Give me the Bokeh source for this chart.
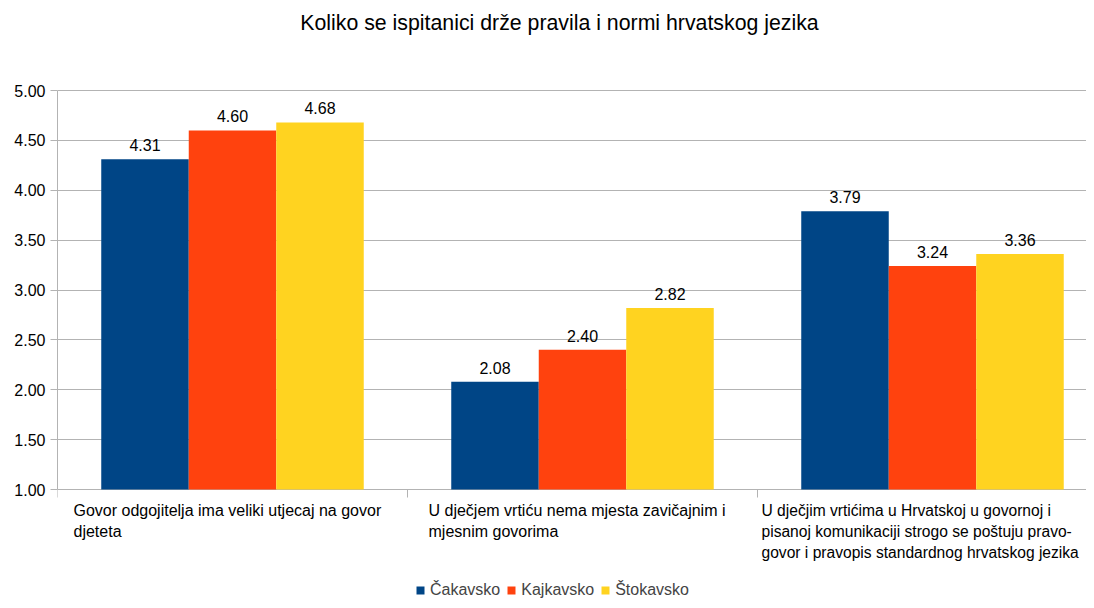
from bokeh.plotting import figure
from bokeh.models import Range1d, Label, FixedTicker, NumeralTickFormatter, ColumnDataSource, Legend
from bokeh.embed import file_html
from bokeh.resources import INLINE
from bokeh.core.properties import value

title = "Koliko se ispitanici drže pravila i normi hrvatskog jezika"
categories = [
    "Govor odgojitelja ima veliki utjecaj na govor\ndjeteta",
    "U dječjem vrtiću nema mjesta zavičajnim i\nmjesnim govorima",
    "U dječjim vrtićima u Hrvatskoj u govornoj i\npisanoj komunikaciji strogo se poštuju pravo-\ngovor i pravopis standardnog hrvatskog jezika",
]
series = ["Čakavsko", "Kajkavsko", "Štokavsko"]
cakavsko = [4.31, 2.08, 3.79]
kajkavsko = [4.60, 2.40, 3.24]
stokavsko = [4.68, 2.82, 3.36]
colors = ["#004586", "#ff420e", "#ffd320"]
y_ticks = [1.0, 1.5, 2.0, 2.5, 3.0, 3.5, 4.0, 4.5, 5.0]

FONT = "Liberation Sans"
W, H = 1086, 600
LEFT = 57
TOP_PX, BOT_PX = 90, 489          # pixel rows of 5.00 and 1.00
CAT_W = 350.0
PPU = (BOT_PX - TOP_PX) / 4.0     # pixels per unit
y_top = 5 + TOP_PX / PPU
y_bot = 1 - (H - BOT_PX) / PPU

p = figure(width=W, height=H, output_backend="svg", toolbar_location=None,
           x_axis_location=None,
           x_range=Range1d(0, (W - LEFT) / CAT_W), y_range=Range1d(y_bot, y_top),
           min_border_left=LEFT, min_border_right=0, min_border_top=0, min_border_bottom=0)
p.outline_line_color = None
p.xgrid.grid_line_color = None
p.ygrid.ticker = FixedTicker(ticks=y_ticks)
p.ygrid.grid_line_color = "#b3b3b3"

p.yaxis.ticker = FixedTicker(ticks=y_ticks)
p.yaxis.bounds = (1, 5)
p.yaxis.formatter = NumeralTickFormatter(format="0.00")
p.yaxis.axis_line_color = "#b3b3b3"
p.yaxis.major_tick_line_color = "#b3b3b3"
p.yaxis.major_tick_out = 7
p.yaxis.major_tick_in = 0
p.yaxis.minor_tick_line_color = None
p.yaxis.major_label_text_font = FONT
p.yaxis.major_label_text_font_size = "16px"
p.yaxis.major_label_text_color = "#000000"
p.yaxis.major_label_standoff = 5

# category divider ticks below the baseline
n = len(categories)
p.segment(x0=list(range(n)), x1=list(range(n)), y0=[1] * n, y1=[1 - 8 / PPU] * n,
          line_color="#b3b3b3", line_width=1)

renderers = []
for j, (name, vals) in enumerate(zip(series, [cakavsko, kajkavsko, stokavsko])):
    xs = [i + 0.5 + (j - 1) * 0.25 for i in range(len(vals))]
    src = ColumnDataSource(dict(x=xs, top=vals, lab=[f"{v:.2f}" for v in vals]))
    r = p.vbar(x="x", top="top", bottom=1, width=0.25, source=src,
               fill_color=colors[j], line_color=None)
    renderers.append((name, [r]))
    p.text(x="x", y="top", text="lab", source=src, text_align="center",
           text_baseline="bottom", y_offset=-8, text_font=value(FONT),
           text_font_size="16px", text_color="#000000")

offsets = [16, 21, 4]
sizes = ["16px", "16px", "15.6px"]
for i, (cat, off, fs) in enumerate(zip(categories, offsets, sizes)):
    p.add_layout(Label(x=i, y=1, x_offset=off, y_offset=-12, text=cat,
                       text_align="left", text_baseline="top",
                       text_font=FONT, text_font_size=fs,
                       text_line_height=1.25, text_color="#000000"))

p.add_layout(Label(x=(559 - LEFT) / CAT_W, y=5 + (TOP_PX - 22) / PPU, text=title,
                   text_align="center", text_baseline="middle",
                   text_font=FONT, text_font_size="21.3px", text_color="#000000"))

legend = Legend(items=renderers, orientation="horizontal", location=(415 - LEFT, 1),
                glyph_width=10, glyph_height=10, label_text_font=FONT,
                label_text_font_size="16px", label_standoff=5, spacing=6,
                padding=0, margin=0, border_line_color=None,
                background_fill_alpha=0, label_height=16)
p.add_layout(legend)

open("out.html", "w").write(file_html(p, INLINE))
